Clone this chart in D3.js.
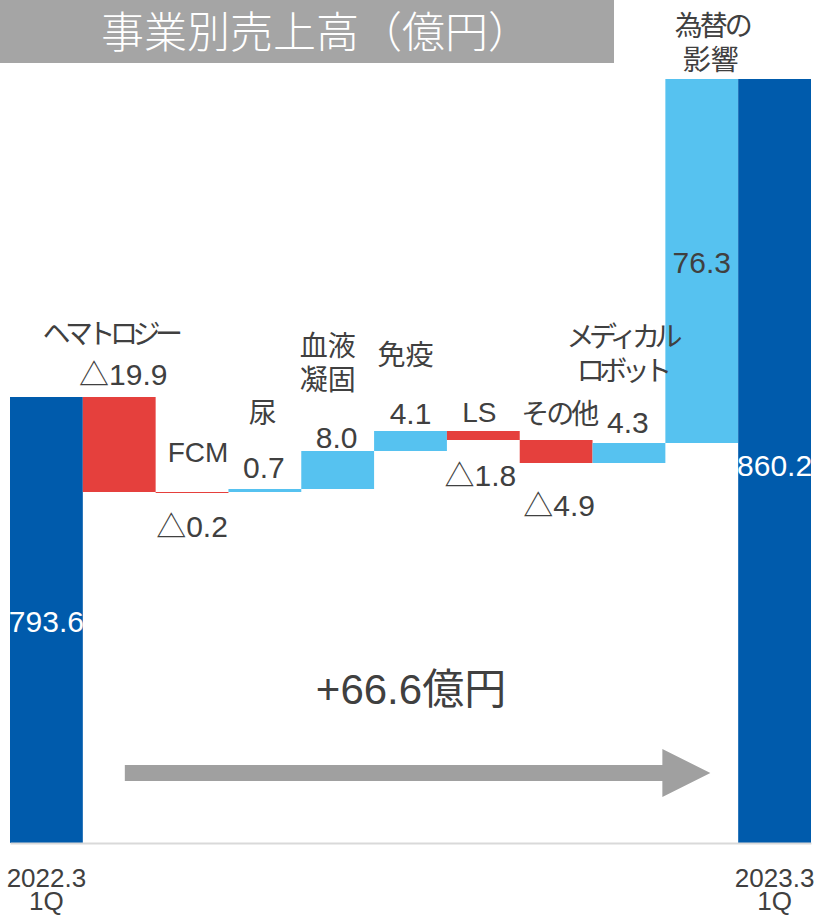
<!DOCTYPE html>
<html lang="ja">
<head>
<meta charset="utf-8">
<script src="https://cdn.jsdelivr.net/npm/d3@7"></script>
<style>
  html, body { margin: 0; padding: 0; background: #fff; }
  svg { display: block; }
  text { font-family: "Liberation Sans", Arial, "Noto Sans CJK JP", sans-serif; }
</style>
</head>
<body>
<svg id="chart" width="818" height="916"></svg>
<script>
// Sales by business segment, bridge from 2022.3 1Q to 2023.3 1Q (億円)
const categories = ["2022.3 1Q", "ヘマトロジー", "FCM", "尿", "血液凝固", "免疫", "LS", "その他", "メディカルロボット", "為替の影響", "2023.3 1Q"];
const amounts    = [793.6, -19.9, -0.2, 0.7, 8.0, 4.1, -1.8, -4.9, 4.3, 76.3, 860.2];
const kinds      = ["total", "delta", "delta", "delta", "delta", "delta", "delta", "delta", "delta", "delta", "total"];
const nameLines  = [["2022.3", "1Q"], ["ヘマトロジー"], ["FCM"], ["尿"], ["血液", "凝固"], ["免疫"], ["LS"], ["その他"], ["メディカル", "ロボット"], ["為替の", "影響"], ["2023.3", "1Q"]];
const titleText  = "事業別売上高（億円）";
const unitText   = "億円";
const yBase      = 700;

const COLORS = { total: "#005BAC", up: "#56C2F0", down: "#E5403D", text: "#404040", gray: "#A5A5A5", axis: "#D9D9D9" };

// running start/end of each bar
let run = 0;
const bars = categories.map((c, i) => {
  const v = amounts[i];
  let start, end;
  if (kinds[i] === "total") { start = yBase; end = v; run = v; }
  else { start = run; end = run + v; run = end; }
  return { cat: c, v, kind: kinds[i], start, end, lo: Math.min(start, end), hi: Math.max(start, end) };
});

const svg = d3.select("#chart");
const x = d3.scaleBand().domain(categories).range([10, 811]).padding(0);
const y = d3.scaleLinear().domain([yBase, d3.max(amounts)]).range([843, 79]);

const fmtDelta = v => (v < 0 ? "△" : "") + d3.format(".1f")(Math.abs(v));

// kana set a little tighter than full-width
const kanaSpacing = s => /[\u30A0-\u30FF]/.test(s) ? -5.5 : /[\u3040-\u309F]/.test(s) ? -3 : 0;

// title banner
svg.append("rect").attr("x", 0).attr("y", 0).attr("width", 614).attr("height", 63).attr("fill", COLORS.gray);
svg.append("text").attr("x", 101).attr("y", 48).attr("text-anchor", "start")
  .attr("fill", "#fff").style("font-size", "43px").style("font-weight", 300)
  .text(titleText);

// bars
svg.append("g").selectAll("rect").data(bars).join("rect")
  .attr("x", d => x(d.cat))
  .attr("width", x.bandwidth())
  .attr("y", d => Math.round(y(d.hi)))
  .attr("height", d => Math.max(1, Math.round(y(d.lo)) - Math.round(y(d.hi))))
  .attr("fill", d => d.kind === "total" ? COLORS.total : (d.v >= 0 ? COLORS.up : COLORS.down));

// baseline
svg.append("g").attr("transform", `translate(0,${y(yBase)})`)
  .call(d3.axisBottom(x).tickSize(0).tickFormat(""))
  .call(g => g.select(".domain").attr("stroke", COLORS.axis).attr("stroke-width", 2));

// label placement: name offsets from bar top, value offsets from bar top / bottom / middle
const namePos = {
  1: [-12, -53], 2: [6, -30], 3: [-2, -66], 4: [-10, -95], 5: [-5, -66],
  6: [-4, -9], 7: [1, -16], 8: [-10, -96], 9: [9, -43]
};
const valuePos = {
  0: ["mid", 0, 12, "#fff"], 1: ["top", 4, -12], 2: ["bottom", 0, 45], 3: ["top", -1, -11],
  4: ["top", -1, -3], 5: ["top", 0, -7], 6: ["bottom", -3, 46], 7: ["bottom", 3, 53],
  8: ["top", -1, -10], 9: ["mid", 0, 12, COLORS.text], 10: ["mid", 0, 15, "#fff"]
};

const labels = svg.append("g").attr("fill", COLORS.text).attr("text-anchor", "middle");

bars.forEach((d, i) => {
  const cx = x(d.cat) + x.bandwidth() / 2;
  // category names
  if (d.kind === "total") {
    nameLines[i].forEach((line, k) => {
      labels.append("text").attr("x", cx).attr("y", y(yBase) + 44 + k * 23)
        .style("font-size", "26px").text(line);
    });
  } else {
    const [dx, dy] = namePos[i];
    nameLines[i].forEach((line, k) => {
      const ls = kanaSpacing(line);
      labels.append("text").attr("x", cx + dx - ls / 2).attr("y", y(d.hi) + dy + k * 34)
        .style("font-size", "28px").style("letter-spacing", ls + "px").text(line);
    });
  }
  // values
  const [where, dx, dy, col] = valuePos[i];
  const ay = where === "top" ? y(d.hi) : where === "bottom" ? y(d.lo) : (y(d.hi) + y(d.lo)) / 2;
  labels.append("text").attr("x", cx + dx).attr("y", ay + dy)
    .attr("fill", col || COLORS.text).style("font-size", "30px")
    .text(d.kind === "total" ? d3.format(".1f")(d.v) : fmtDelta(d.v));
});

// overall change arrow
const diff = amounts[amounts.length - 1] - amounts[0];
const ax0 = x(categories[1]) + 42, ax1 = x(categories[9]) + 45, ayc = 773;
const shaft = 8, head = 24, headLen = 48;
svg.append("path")
  .attr("d", `M${ax0},${ayc - shaft} L${ax1 - headLen},${ayc - shaft} L${ax1 - headLen},${ayc - head} L${ax1},${ayc} L${ax1 - headLen},${ayc + head} L${ax1 - headLen},${ayc + shaft} L${ax0},${ayc + shaft} Z`)
  .attr("fill", "#A0A0A0");
svg.append("text").attr("x", 411).attr("y", 704).attr("text-anchor", "middle")
  .attr("fill", COLORS.text).style("font-size", "42px")
  .text(d3.format("+.1f")(diff) + unitText);
</script>
</body>
</html>
